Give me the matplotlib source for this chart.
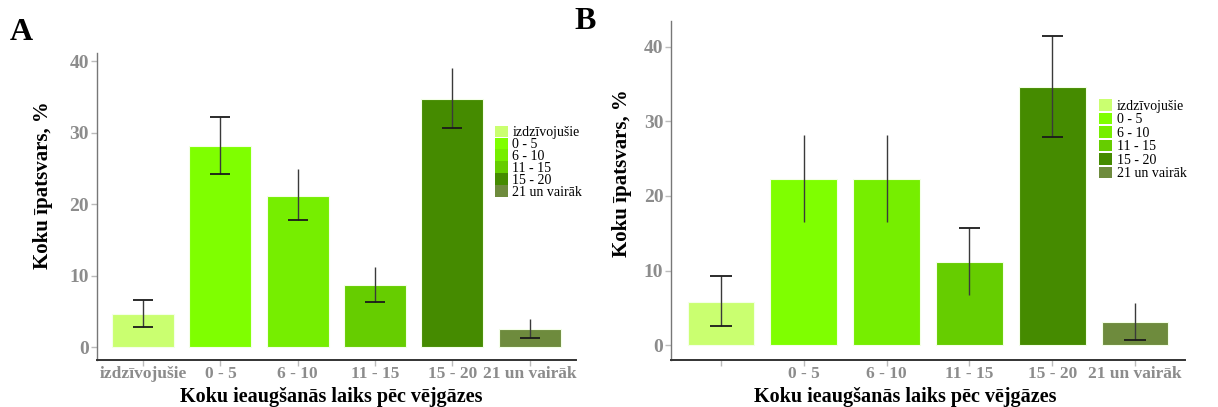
import matplotlib
matplotlib.use("Agg")
import matplotlib.pyplot as plt
from matplotlib.patches import Patch
import numpy as np

plt.rcParams['font.family'] = ['Liberation Serif', 'DejaVu Serif']

# categories and values
categories = ['izdzīvojušie', '0 - 5', '6 - 10', '11 - 15', '15 - 20', '21 un vairāk']

share_a = [4.6, 28.1, 21.2, 8.7, 34.7, 2.6]
upper_a = [6.6, 32.2, 24.9, 11.2, 39.1, 4.0]
lower_a = [2.8, 24.2, 17.8, 6.3, 30.6, 1.3]

share_b = [5.8, 22.3, 22.3, 11.1, 34.6, 3.1]
upper_b = [9.2, 28.2, 28.2, 15.7, 41.4, 5.7]
lower_b = [2.5, 16.5, 16.5, 6.7, 27.9, 0.7]

colors = ['#CAFF70', '#7FFF00', '#76EE00', '#66CD00', '#458B00', '#6E8B3D']

# which error bar ends have a visible cap (top, bottom)
caps_a = [(1, 1), (1, 1), (0, 1), (0, 1), (0, 1), (0, 1)]
caps_b = [(1, 1), (0, 0), (0, 0), (1, 0), (1, 1), (0, 1)]

xlabel = 'Koku ieaugšanās laiks pēc vējgāzes'
ylabel = 'Koku īpatsvars, %'

fig = plt.figure(figsize=(12.18, 4.07), dpi=100)
ax_a = fig.add_axes([0.0794, 0.1155, 0.3935, 0.7536])
ax_b = fig.add_axes([0.5509, 0.1155, 0.422, 0.8337])


def draw_panel(ax, share, upper, lower, caps, ylim, show_first,
               legend_pos, legend_gap, xlab_pos, ylab_pos):
    x = np.arange(len(categories))
    ax.bar(x, share, width=0.8, color=colors, edgecolor='#f4ffe8', linewidth=0.8, zorder=2)
    share = np.array(share)
    yerr = [share - np.array(lower), np.array(upper) - share]
    ax.errorbar(x, share, yerr=yerr, fmt='none', ecolor='#3a3a3a', elinewidth=1.0, capsize=0, zorder=3)
    for xi, up, lo, (ct, cb) in zip(x, upper, lower, caps):
        if ct:
            ax.hlines(up, xi - 0.13, xi + 0.13, color='#1a1a1a', lw=1.3, zorder=3)
        if cb:
            ax.hlines(lo, xi - 0.13, xi + 0.13, color='#1a1a1a', lw=1.3, zorder=3)

    ax.set_xlim(-0.6, 5.6)
    ax.set_ylim(*ylim)
    ax.set_yticks([0, 10, 20, 30, 40])
    ax.set_xticks(x)
    labels = list(categories)
    if not show_first:
        labels[0] = ''
    ax.set_xticklabels(labels)
    for s in ['top', 'right']:
        ax.spines[s].set_visible(False)
    ax.spines['left'].set_color('#777777')
    ax.spines['bottom'].set_color('#333333')
    ax.spines['left'].set_linewidth(1.0)
    ax.spines['bottom'].set_linewidth(1.4)
    ax.tick_params(axis='both', colors='#bbbbbb', length=4, width=1.0, pad=1.5)
    ax.tick_params(axis='x', pad=0.5)
    for lab in ax.get_xticklabels():
        lab.set_color('#8c8c8c')
        lab.set_fontweight('bold')
        lab.set_fontsize(12.5)
    for lab in ax.get_yticklabels():
        lab.set_color('#8c8c8c')
        lab.set_fontweight('bold')
        lab.set_fontsize(14)
    ax.set_xlabel(xlabel, fontsize=14.5, fontweight='bold')
    ax.set_ylabel(ylabel, fontsize=15, fontweight='bold')
    ax.xaxis.label.set_va('center')
    ax.yaxis.label.set_va('center')
    ax.xaxis.set_label_coords(*xlab_pos)
    ax.yaxis.set_label_coords(*ylab_pos)

    handles = [Patch(facecolor=c, edgecolor='none') for c in colors]
    leg = ax.legend(handles, categories, loc='upper left', bbox_to_anchor=legend_pos,
                    frameon=False, fontsize=10, handlelength=0.95, handleheight=0.9,
                    handletextpad=0.3, labelspacing=legend_gap, borderaxespad=0,
                    borderpad=0)
    return leg


draw_panel(ax_a, share_a, upper_a, lower_a, caps_a, (-1.8, 41.1), True,
           (0.831, 0.764), -0.12, (0.489, -0.122), (-0.112, 0.571))
draw_panel(ax_b, share_b, upper_b, lower_b, caps_b, (-2.0, 43.5), False,
           (0.833, 0.769), 0.0, (0.455, -0.11), (-0.096, 0.551))

fig.text(0.008, 0.921, 'A', fontsize=23, fontweight='bold', ha='left', va='center')
fig.text(0.472, 0.948, 'B', fontsize=23, fontweight='bold', ha='left', va='center')

fig.savefig('out.png', dpi=100)
